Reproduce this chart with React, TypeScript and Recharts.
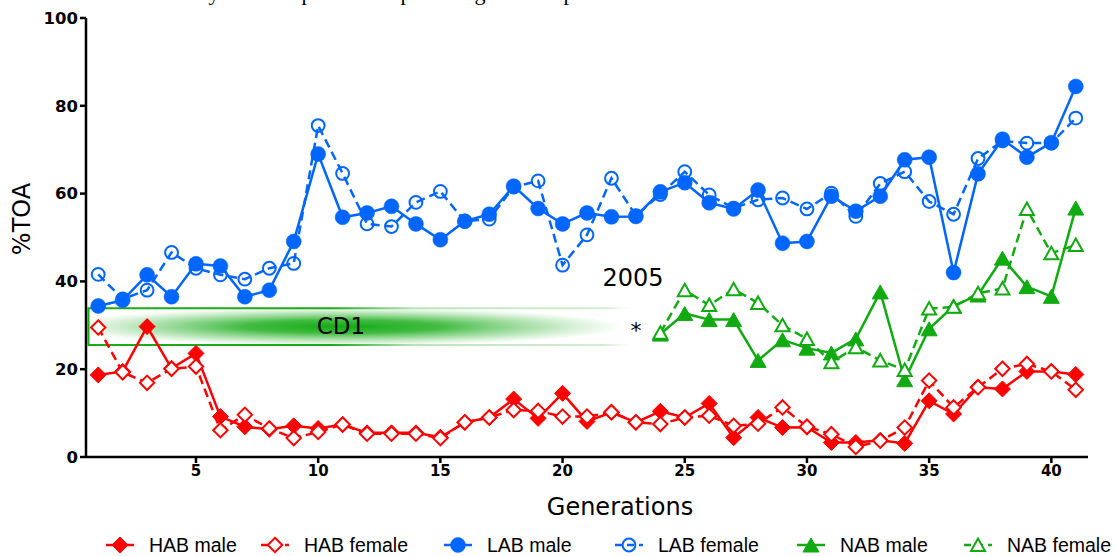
import React from 'react';
import { LineChart, Line, XAxis, YAxis, ReferenceArea } from 'recharts';

const generations = [1,2,3,4,5,6,7,8,9,10,11,12,13,14,15,16,17,18,19,20,21,22,23,24,25,26,27,28,29,30,31,32,33,34,35,36,37,38,39,40,41];

const habMale = [18.7,19.5,29.7,20.2,23.6,9.2,6.9,6.3,7.1,6.5,7.4,5.5,5.5,5.5,4.5,7.9,9.0,13.2,8.8,14.5,8.1,10.2,7.9,10.4,9.0,12.2,4.4,9.0,6.7,6.8,3.3,3.3,3.8,3.1,12.8,9.8,15.9,15.5,19.5,19.5,18.8];
const habFemale = [29.5,19.3,16.9,20.1,20.6,6.1,9.6,6.5,4.3,5.7,7.4,5.3,5.3,5.3,4.3,7.9,9.0,10.7,10.5,9.2,9.2,10.2,7.9,7.5,9.0,9.4,7.1,7.6,11.3,6.9,5.2,2.3,3.7,6.7,17.4,11.3,15.9,20.1,21.2,19.5,15.3];
const labMale = [34.4,35.7,41.5,36.5,44.0,43.5,36.5,38.0,49.1,69.0,54.6,55.6,57.1,53.1,49.5,53.7,55.3,61.7,56.6,53.1,55.6,54.7,54.8,60.4,62.5,57.9,56.5,60.8,48.7,49.1,59.4,56.0,59.4,67.7,68.3,42.0,64.5,72.4,68.3,71.6,84.4];
const labFemale = [41.6,36.0,38.0,46.6,43.0,41.5,40.5,43.0,44.1,75.5,64.6,53.1,52.5,58.0,60.5,53.7,54.2,61.5,62.9,43.7,50.6,63.5,55.0,59.8,65.0,59.7,56.7,58.6,59.0,56.5,60.1,54.8,62.3,65.0,58.2,55.3,68.0,72.0,71.5,71.5,77.2];
const nabMale = [null,null,null,null,null,null,null,null,null,null,null,null,null,null,null,null,null,null,null,null,null,null,null,28.0,32.7,31.3,31.3,22.0,26.7,24.8,23.7,26.9,37.6,17.6,29.2,34.4,36.9,45.3,38.8,36.6,56.7];
const nabFemale = [null,null,null,null,null,null,null,null,null,null,null,null,null,null,null,null,null,null,null,null,null,null,null,28.3,38.0,34.6,38.2,35.1,30.0,26.9,21.6,25.0,22.0,19.8,33.8,34.2,37.3,38.4,56.5,46.4,48.3];

const xTicks = [5,10,15,20,25,30,35,40];
const yTicks = [0,20,40,60,80,100];

const cd1Band = { x1: 0.5, x2: 22.76, y1: 25.5, y2: 33.9 };

const RED = '#ff0000';
const BLUE = '#0066ff';
const GREEN = '#11aa11';

const data = generations.map((g, i) => ({
  gen: g,
  habMale: habMale[i],
  habFemale: habFemale[i],
  labMale: labMale[i],
  labFemale: labFemale[i],
  nabMale: nabMale[i],
  nabFemale: nabFemale[i],
}));

type Kind = 'diamond' | 'circle' | 'triangle';

function Marker({ kind, color, open, cx, cy }: { kind: Kind; color: string; open: boolean; cx: number; cy: number }) {
  if (kind === 'diamond') {
    const s = open ? 7.2 : 8;
    return (
      <path
        d={`M${cx},${cy - s} L${cx + s},${cy} L${cx},${cy + s} L${cx - s},${cy} Z`}
        fill={open ? '#fff' : color}
        stroke={color}
        strokeWidth={open ? 2 : 1}
      />
    );
  }
  if (kind === 'circle') {
    return open ? (
      <circle cx={cx} cy={cy} r={6.4} fill="none" stroke={color} strokeWidth={2} />
    ) : (
      <circle cx={cx} cy={cy} r={7.5} fill={color} stroke={color} strokeWidth={0.5} />
    );
  }
  const hw = open ? 7 : 8;
  const top = open ? 6.5 : 7;
  const bot = open ? 6 : 7;
  return (
    <path
      d={`M${cx},${cy - top} L${cx + hw},${cy + bot} L${cx - hw},${cy + bot} Z`}
      fill={open ? '#fff' : color}
      stroke={color}
      strokeWidth={open ? 2 : 1}
      strokeLinejoin="miter"
    />
  );
}

const makeDot = (name: string, kind: Kind, color: string, open: boolean) => (props: any) => {
  const { cx, cy, index, value } = props;
  if (cx == null || cy == null || value == null || Number.isNaN(cy)) return <g key={`${name}-${index}`} />;
  return (
    <g key={`${name}-${index}`}>
      <Marker kind={kind} color={color} open={open} cx={cx} cy={cy} />
    </g>
  );
};

const BandShape = (props: any) => {
  const { x, y, width, height } = props;
  if (x == null) return null;
  return (
    <g>
      <defs>
        <radialGradient id="cd1Fill" cx="0.47" cy="0.5" r="0.52" gradientUnits="objectBoundingBox">
          <stop offset="0" stopColor="#14aa14" stopOpacity={1} />
          <stop offset="0.35" stopColor="#22b022" stopOpacity={0.85} />
          <stop offset="0.7" stopColor="#44bb44" stopOpacity={0.4} />
          <stop offset="1" stopColor="#66cc66" stopOpacity={0} />
        </radialGradient>
        <linearGradient id="cd1Stroke" gradientUnits="userSpaceOnUse" x1={x} y1={0} x2={x + width} y2={0}>
          <stop offset="0" stopColor="#1aaa1a" stopOpacity={1} />
          <stop offset="0.45" stopColor="#1aaa1a" stopOpacity={1} />
          <stop offset="0.6" stopColor="#1aaa1a" stopOpacity={0.3} />
          <stop offset="0.95" stopColor="#1aaa1a" stopOpacity={0.2} />
          <stop offset="1" stopColor="#1aaa1a" stopOpacity={0} />
        </linearGradient>
      </defs>
      <rect x={x} y={y} width={width} height={height} fill="url(#cd1Fill)" />
      <path
        d={`M${x + width},${y} H${x + 2.5} V${y + height} H${x + width}`}
        fill="none"
        stroke="url(#cd1Stroke)"
        strokeWidth={2}
      />
    </g>
  );
};

const legendItems: { label: string; kind: Kind; color: string; open: boolean; left: number }[] = [
  { label: 'HAB male', kind: 'diamond', color: RED, open: false, left: 106 },
  { label: 'HAB female', kind: 'diamond', color: RED, open: true, left: 261 },
  { label: 'LAB male', kind: 'circle', color: BLUE, open: false, left: 444 },
  { label: 'LAB female', kind: 'circle', color: BLUE, open: true, left: 615 },
  { label: 'NAB male', kind: 'triangle', color: GREEN, open: false, left: 797 },
  { label: 'NAB female', kind: 'triangle', color: GREEN, open: true, left: 964 },
];

const tickFont = { fontFamily: '"DejaVu Sans", sans-serif', fontWeight: 700, fill: '#000' };

export default function App() {
  return (
    <div style={{ position: 'absolute', left: 0, top: 0, width: 1118, height: 556, background: '#fff', overflow: 'hidden' }}>
      <LineChart width={1118} height={556} data={data} margin={{ top: 18, right: 30, bottom: 69, left: 0 }}>
        <XAxis
          dataKey="gen"
          type="number"
          domain={[0.5, 41.5]}
          ticks={xTicks}
          allowDataOverflow
          height={30}
          axisLine={{ stroke: '#000', strokeWidth: 2.5 }}
          tickLine={{ stroke: '#000', strokeWidth: 2.5 }}
          tickSize={6}
          tick={{ ...tickFont, fontSize: 15 }}
        />
        <YAxis
          type="number"
          domain={[0, 100]}
          ticks={yTicks}
          width={86}
          axisLine={{ stroke: '#000', strokeWidth: 2.5 }}
          tickLine={{ stroke: '#000', strokeWidth: 2.5 }}
          tickSize={6}
          tick={{ ...tickFont, fontSize: 16.5 }}
        />
        <ReferenceArea
          x1={cd1Band.x1}
          x2={cd1Band.x2}
          y1={cd1Band.y1}
          y2={cd1Band.y2}
          ifOverflow="visible"
          shape={BandShape}
        />
        <Line type="linear" dataKey="habMale" stroke={RED} strokeWidth={2.5} dot={makeDot('hm', 'diamond', RED, false)} activeDot={false} isAnimationActive={false} />
        <Line type="linear" dataKey="habFemale" stroke={RED} strokeWidth={2.5} strokeDasharray="9 5" dot={makeDot('hf', 'diamond', RED, true)} activeDot={false} isAnimationActive={false} />
        <Line type="linear" dataKey="labFemale" stroke={BLUE} strokeWidth={2.5} strokeDasharray="9 5" dot={makeDot('lf', 'circle', BLUE, true)} activeDot={false} isAnimationActive={false} />
        <Line type="linear" dataKey="labMale" stroke={BLUE} strokeWidth={2.5} dot={makeDot('lm', 'circle', BLUE, false)} activeDot={false} isAnimationActive={false} />
        <Line type="linear" dataKey="nabMale" stroke={GREEN} strokeWidth={2.5} dot={makeDot('nm', 'triangle', GREEN, false)} activeDot={false} isAnimationActive={false} />
        <Line type="linear" dataKey="nabFemale" stroke={GREEN} strokeWidth={2.5} strokeDasharray="9 5" dot={makeDot('nf', 'triangle', GREEN, true)} activeDot={false} isAnimationActive={false} />
      </LineChart>

      <svg width={1118} height={556} style={{ position: 'absolute', left: 0, top: 0, pointerEvents: 'none' }}>
        <g fontFamily='"Liberation Serif", serif' fontSize={22} fill="#000" textAnchor="middle">
          <text x={214} y={0}>y</text>
          <text x={307} y={0}>p</text>
          <text x={406} y={0}>p</text>
          <text x={480} y={0}>g</text>
          <text x={569} y={0}>p</text>
        </g>
        <text x={22} y={219} transform="rotate(-90 22 219)" textAnchor="middle" dominantBaseline="central" fontFamily='"DejaVu Sans", sans-serif' fontSize={24} fill="#000">%TOA</text>
        <text x={620} y={515} textAnchor="middle" fontFamily='"DejaVu Sans", sans-serif' fontSize={24} fill="#000">Generations</text>
        <text x={341} y={334} textAnchor="middle" fontFamily='"DejaVu Sans", sans-serif' fontSize={23} fill="#000">CD1</text>
        <text x={633} y={286} textAnchor="middle" fontFamily='"DejaVu Sans", sans-serif' fontSize={24} fill="#000">2005</text>
        <text x={636} y={338} textAnchor="middle" fontFamily='"DejaVu Sans", sans-serif' fontSize={22} fill="#000">*</text>
        {legendItems.map((it) => (
          <g key={it.label}>
            <line
              x1={it.left}
              y1={545}
              x2={it.left + 28}
              y2={545}
              stroke={it.color}
              strokeWidth={2.5}
              strokeDasharray={it.open ? '7 5' : undefined}
            />
            <Marker kind={it.kind} color={it.color} open={it.open} cx={it.left + 14} cy={545} />
            <text
              x={it.left + 43}
              y={545}
              dominantBaseline="central"
              fontFamily='"Liberation Sans", Arial, sans-serif'
              fontSize={19.5}
              fill="#000"
            >
              {it.label}
            </text>
          </g>
        ))}
      </svg>
    </div>
  );
}
